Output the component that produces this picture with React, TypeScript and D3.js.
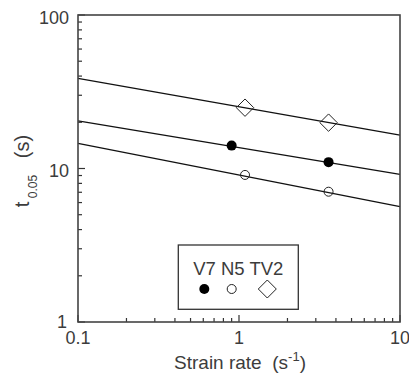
import React from "react";
import * as d3 from "d3";

// fitted lines, evaluated at the ends of the strain-rate range
const lineRates = [0.1, 10];
const lineV7 = [20.4, 9.17];
const lineN5 = [14.6, 5.64];
const lineTV2 = [38.7, 16.5];

// measured points
const pointRates = [0.9, 3.6];
const pointRatesOpen = [1.09, 3.6];
const pointsV7 = [14.1, 11.0];
const pointsN5 = [9.08, 7.06];
const pointsTV2 = [24.9, 19.9];

const xTickLabels = ["0.1", "1", "10"];
const yTickLabels = ["1", "10", "100"];
const legendNames = ["V7", "N5", "TV2"];

const W = 409;
const H = 379;
const FONT = "'Liberation Sans', Arial, sans-serif";
const TEXT = "#3c3c3c";

export default function App() {
  const x = d3.scaleLog().domain([0.1, 10]).range([78, 400]);
  const y = d3.scaleLog().domain([1, 100]).range([322, 15]);

  const xTicks = x.ticks();
  const yTicks = y.ticks();
  const isMajor = (v: number) => Math.abs(Math.log10(v) - Math.round(Math.log10(v))) < 1e-9;

  const line = d3
    .line<number>()
    .x((_, i) => x(lineRates[i]))
    .y((d) => y(d));

  const diamond = (cx: number, cy: number, r: number) =>
    `M${cx},${cy - r}L${cx + r},${cy}L${cx},${cy + r}L${cx - r},${cy}Z`;

  return (
    <svg width={W} height={H} style={{ position: "absolute", left: 0, top: 0, background: "#fff" }} fontFamily={FONT}>
      {/* fitted lines */}
      {[lineV7, lineN5, lineTV2].map((s, i) => (
        <path key={i} d={line(s) || ""} fill="none" stroke="#111" strokeWidth={1.3} />
      ))}

      {/* points */}
      {pointsTV2.map((v, i) => (
        <path key={"d" + i} d={diamond(x(pointRatesOpen[i]), y(v), 8.7)} fill="none" stroke="#222" strokeWidth={1} />
      ))}
      {pointsV7.map((v, i) => (
        <circle key={"f" + i} cx={x(pointRates[i])} cy={y(v)} r={5} fill="#000" />
      ))}
      {pointsN5.map((v, i) => (
        <circle key={"o" + i} cx={x(pointRatesOpen[i])} cy={y(v)} r={4.5} fill="none" stroke="#222" strokeWidth={1} />
      ))}

      {/* ticks */}
      {xTicks.map((t, i) => (
        <line key={"xt" + i} x1={x(t)} x2={x(t)} y1={322} y2={322 - (isMajor(t) ? 7 : 4)} stroke="#333" strokeWidth={1.2} />
      ))}
      {yTicks.map((t, i) => (
        <line key={"yt" + i} x1={78} x2={78 + (isMajor(t) ? 7 : 4)} y1={y(t)} y2={y(t)} stroke="#333" strokeWidth={1.2} />
      ))}

      {/* frame */}
      <rect x={78} y={15} width={322} height={307} fill="none" stroke="#444" strokeWidth={1.6} />

      {/* tick labels */}
      {xTickLabels.map((l) => (
        <text key={"xl" + l} x={x(+l)} y={344} textAnchor="middle" fontSize={18} fill={TEXT}>
          {l}
        </text>
      ))}
      {yTickLabels.map((l) => (
        <text
          key={"yl" + l}
          x={l === "1" ? 67 : 69}
          y={y(+l) + (l === "1" ? 5.5 : 8.5)}
          textAnchor="end"
          fontSize={18}
          fill={TEXT}
        >
          {l}
        </text>
      ))}

      {/* axis titles */}
      <text x={240} y={369} textAnchor="middle" fontSize={19} fill={TEXT} style={{ whiteSpace: "pre" }}>
        <tspan>{"Strain rate  (s"}</tspan>
        <tspan fontSize={13} dy={-8}>-1</tspan>
        <tspan dy={8}>)</tspan>
      </text>
      <text transform="translate(29,171) rotate(-90)" textAnchor="middle" fontSize={20} fill={TEXT} style={{ whiteSpace: "pre" }}>
        <tspan>t</tspan>
        <tspan fontSize={12} dy={8}>{" 0.05"}</tspan>
        <tspan dy={-8}>{"   (s)"}</tspan>
      </text>

      {/* legend */}
      <rect x={178.3} y={245} width={120} height={64.3} fill="#fff" stroke="#333" strokeWidth={1.3} />
      <text x={238.3} y={275} textAnchor="middle" fontSize={18.5} fill={TEXT}>
        {legendNames.join(" ")}
      </text>
      <circle cx={204.3} cy={289} r={5} fill="#000" />
      <circle cx={231.7} cy={289} r={4.5} fill="none" stroke="#222" strokeWidth={1} />
      <path d={diamond(267.3, 289, 9)} fill="none" stroke="#222" strokeWidth={1} />
    </svg>
  );
}
